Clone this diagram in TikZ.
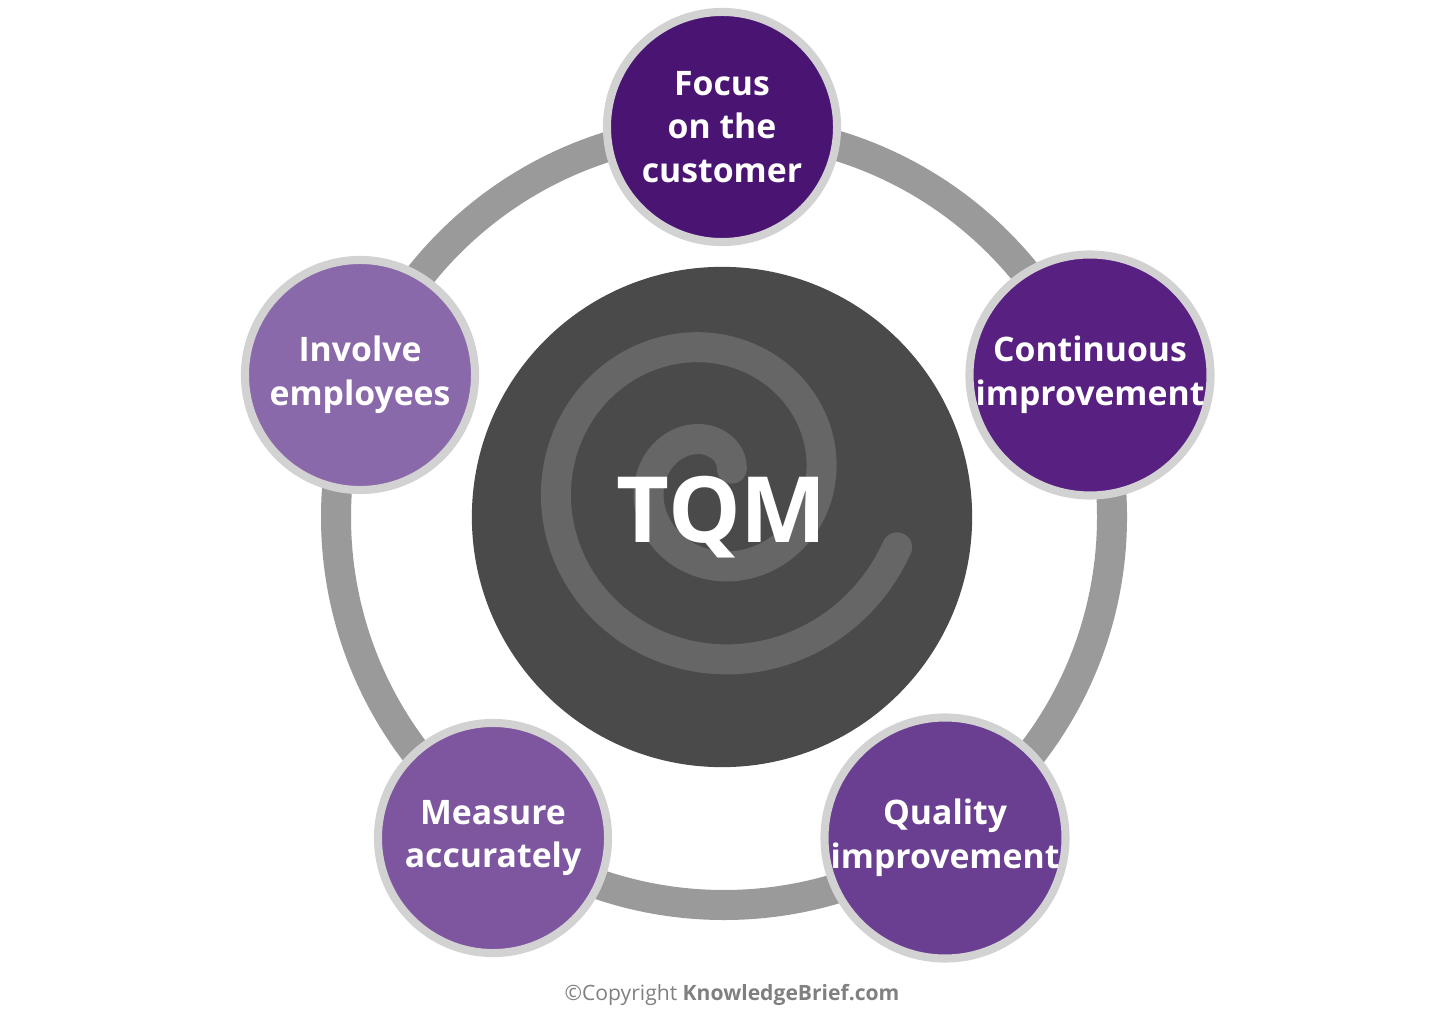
\documentclass[tikz,border=0pt]{standalone}
\usepackage{fontspec}
\setmainfont{Open Sans}
\definecolor{ringc}{HTML}{9A9A9A}
\definecolor{rimc}{HTML}{D2D2D2}
\definecolor{cA}{HTML}{4A1472}
\definecolor{cB}{HTML}{582181}
\definecolor{cC}{HTML}{8A69AA}
\definecolor{cD}{HTML}{7D569F}
\definecolor{cE}{HTML}{6A3F92}
\definecolor{darkc}{HTML}{4A4A4A}
\definecolor{spir}{HTML}{666666}
\begin{document}
\begin{tikzpicture}[x=0.01cm,y=-0.01cm,
  pillar/.style={circle,draw=rimc,line width=2.3pt,align=center,text=white,font=\fontsize{9.6}{12.4}\selectfont\bfseries,inner sep=0pt,minimum size=2.3cm}]
\useasboundingbox (0,0) rectangle (1440,1016);
\draw[ringc,line width=0.3cm] (724,517) circle (388);
\node[circle,fill=darkc,minimum size=5cm,inner sep=0pt] (core) at (722,517) {};
\begin{scope}
\clip (722,517) circle (250);
\draw[spir,line width=0.3cm,line cap=round] plot[domain=30:700,samples=120,smooth] ({712+(15+0.26*\x)*cos(\x)},{480-(15+0.26*\x)*sin(\x)});
\end{scope}
\node[text=white,font=\fontsize{26}{28}\selectfont\bfseries] (tqm) at (722,517) {TQM};
\node[pillar,fill=cA] (a) at (722,127) {Focus\\on the\\customer};
\node[pillar,fill=cB] (b) at (1090,375) {Continuous\\improvement};
\node[pillar,fill=cC] (c) at (360,375) {Involve\\employees};
\node[pillar,fill=cD] (d) at (493,838) {Measure\\accurately};
\node[pillar,fill=cE] (e) at (945,838) {Quality\\improvement};
\node[text=gray,font=\fontsize{6}{7}\selectfont] (copy) at (732,995) {\textcopyright Copyright \textbf{KnowledgeBrief.com}};
\end{tikzpicture}
\end{document}
